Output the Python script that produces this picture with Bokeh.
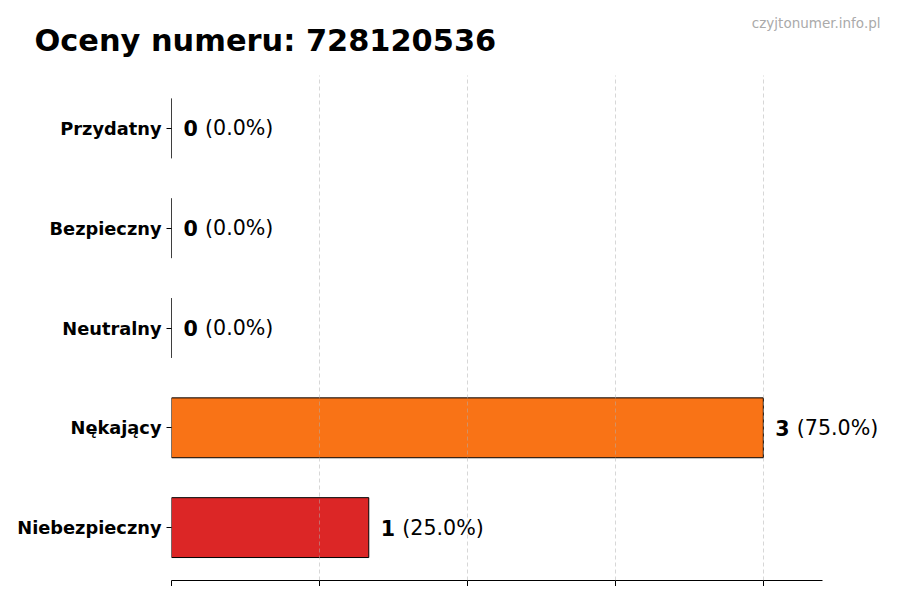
from bokeh.plotting import figure
from bokeh.layouts import column
from bokeh.models import ColumnDataSource, FixedTicker, Label, Range1d
from bokeh.core.properties import value
from bokeh.embed import file_html
from bokeh.resources import INLINE

categories = ["Niebezpieczny", "Nękający", "Neutralny", "Bezpieczny", "Przydatny"]
counts = [1, 3, 0, 0, 0]
colors = ["#DC2626", "#F97316", "#9CA3AF", "#22C55E", "#3B82F6"]
x_ticks = [0, 0.75, 1.5, 2.25, 3.0]
title_text = "Oceny numeru: 728120536"
watermark = "czyjtonumer.info.pl"

total = sum(counts)
ypos = list(range(len(categories)))
pct = [f"({c / total * 100:.1f}%)" for c in counts]
num = [str(c) for c in counts]

src = ColumnDataSource(dict(y=ypos, right=counts, color=colors, num=num, pct=pct))

FONT = "DejaVu Sans"
W = 884
HEADER_H = 75

# ---- header (title + watermark) ----
h = figure(width=W, height=HEADER_H, min_border=0,
           x_range=Range1d(0, W), y_range=Range1d(0, HEADER_H),
           x_axis_location=None, y_axis_location=None,
           output_backend="svg", toolbar_location=None)
h.frame_align = False
h.outline_line_color = None
h.grid.grid_line_color = None
h.background_fill_color = "white"
h.border_fill_color = "white"
h.add_layout(Label(x=34, y=HEADER_H - 40, x_units="screen", y_units="screen", text=title_text,
                   text_font=FONT, text_font_style="bold", text_font_size="30.4px",
                   text_color="black", text_baseline="alphabetic", text_align="left"))
h.add_layout(Label(x=880, y=HEADER_H - 22, x_units="screen", y_units="screen", text=watermark,
                   text_font=FONT, text_font_size="13.5px",
                   text_color="#aaaaaa", text_baseline="alphabetic", text_align="right"))

# ---- chart ----
axis_end = max(counts) * 1.1
FW = W - 171
range_end = axis_end * FW / 651

p = figure(frame_width=FW, frame_height=505,
           min_border_left=171, min_border_right=0, min_border_top=0, min_border_bottom=6,
           x_range=Range1d(0, range_end), y_range=Range1d(-0.53, len(categories) - 1 + 0.53),
           output_backend="svg", toolbar_location=None)
p.frame_align = False
p.outline_line_color = None
p.background_fill_color = "white"
p.border_fill_color = "white"

p.hbar(y="y", right="right", left=0, height=0.6, fill_color="color",
       line_color="black", line_width=1, source=src)

p.text(x="right", y="y", text="num", x_offset=12, text_baseline="middle",
       text_font=value(FONT), text_font_style="bold", text_font_size="20.6px",
       text_color="black", source=src)
p.text(x="right", y="y", text="pct", x_offset=33.5, text_baseline="middle",
       text_font=value(FONT), text_font_size="20.6px", text_color="black", source=src)

p.xaxis.ticker = FixedTicker(ticks=x_ticks)
p.xaxis.bounds = (0, axis_end)
p.xaxis.major_label_text_font_size = "0px"
p.xaxis.major_label_text_color = None
p.xaxis.major_label_standoff = 0
p.xaxis.major_tick_out = 6
p.xaxis.major_tick_in = 0
p.xaxis.minor_tick_line_color = None
p.xaxis.axis_line_color = "black"
p.xaxis.major_tick_line_color = "black"

p.yaxis.ticker = FixedTicker(ticks=ypos)
p.yaxis.major_label_overrides = {i: c for i, c in zip(ypos, categories)}
p.yaxis.axis_line_color = None
p.yaxis.major_tick_out = 5
p.yaxis.major_tick_in = 0
p.yaxis.minor_tick_line_color = None
p.yaxis.major_label_standoff = 5
p.yaxis.major_label_text_font = FONT
p.yaxis.major_label_text_font_style = "bold"
p.yaxis.major_label_text_font_size = "17.8px"
p.yaxis.major_label_text_color = "black"

p.ygrid.grid_line_color = None
p.xgrid.ticker = FixedTicker(ticks=x_ticks)
p.xgrid.grid_line_color = "#b0b0b0"
p.xgrid.grid_line_alpha = 0.5
p.xgrid.grid_line_dash = "4 3"
p.xgrid.grid_line_width = 1
p.xgrid.level = "annotation"

open("out.html", "w").write(file_html(column(h, p, spacing=0), INLINE))
